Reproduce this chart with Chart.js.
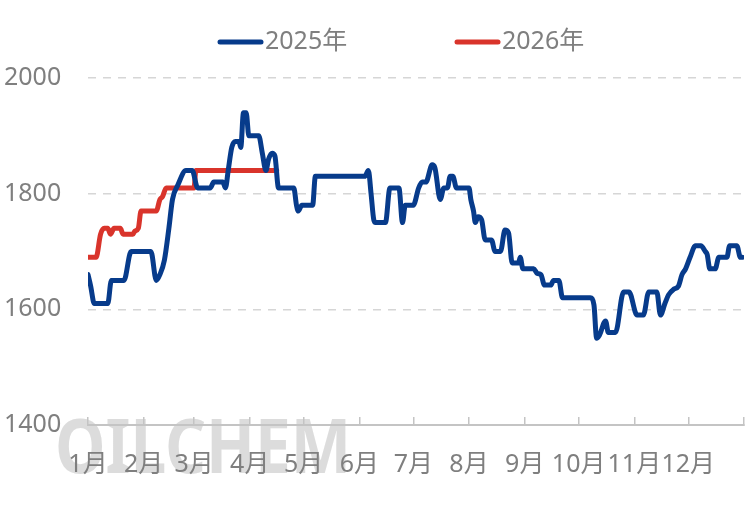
<!DOCTYPE html>
<html>
<head>
<meta charset="utf-8">
<script src="https://cdn.jsdelivr.net/npm/chart.js@4.4.1/dist/chart.umd.min.js"></script>
<style>
  html, body { margin: 0; padding: 0; background: #fff; }
  #wrap { width: 750px; height: 519px; position: relative; }
</style>
</head>
<body>
<div id="wrap"><canvas id="chart"></canvas></div>
<script>
'use strict';

const monthLabels = ['1月', '2月', '3月', '4月', '5月', '6月', '7月', '8月', '9月', '10月', '11月', '12月'];
const monthStarts = [0, 31, 59, 90, 120, 151, 181, 212, 243, 273, 304, 334, 365];
const yTicks      = [1400, 1600, 1800, 2000];

const seriesNames = ['2025年', '2026年'];

// day of year / price
const days2025 = [0, 1.5, 3.5, 11, 13, 20, 24, 35, 38, 40, 42.5, 45, 47, 50, 54.5, 58, 61, 68, 70, 75,
  76.5, 78, 80, 82, 84, 85, 86.5, 88, 89.5, 95, 97, 99, 100.5, 102.5, 104, 106, 114.5, 116, 117, 119,
  125, 126.5, 154, 156, 157.5, 159, 160, 165.5, 168, 173, 175, 176.5, 181, 184, 186, 188, 191.5, 193, 196, 198,
  200, 201.5, 203, 205, 212, 213, 214.5, 215.5, 217, 219, 221, 224.5, 226.5, 229.5, 232, 234, 236, 239.5, 240.5, 242,
  248, 250, 252, 254, 257.5, 259, 262, 264, 279.5, 281.5, 283, 284.5, 288, 289.5, 293.5, 298, 301, 305.5, 309, 312,
  316.5, 318.5, 321, 323, 326, 328.5, 330.5, 332.5, 335, 338, 341, 343.5, 344.5, 346, 349, 351, 355.5, 357, 361, 363, 364];
const values2025 = [1660, 1640, 1610, 1610, 1650, 1650, 1700, 1700, 1650, 1660, 1685, 1740, 1790, 1815, 1840, 1840, 1810, 1810, 1820, 1820,
  1810, 1840, 1880, 1890, 1890, 1880, 1940, 1940, 1900, 1900, 1870, 1840, 1860, 1870, 1865, 1810, 1810, 1780, 1770, 1780,
  1780, 1830, 1830, 1840, 1800, 1755, 1750, 1750, 1810, 1810, 1750, 1780, 1780, 1810, 1820, 1820, 1850, 1845, 1790, 1810,
  1810, 1830, 1830, 1810, 1810, 1790, 1770, 1750, 1760, 1755, 1720, 1720, 1700, 1700, 1737, 1732, 1680, 1680, 1690, 1670,
  1670, 1662, 1660, 1642, 1642, 1650, 1650, 1620, 1620, 1608, 1550, 1555, 1580, 1560, 1560, 1630, 1630, 1590, 1590, 1630,
  1630, 1590, 1610, 1625, 1635, 1640, 1660, 1670, 1690, 1710, 1710, 1700, 1695, 1670, 1670, 1690, 1690, 1710, 1710, 1690, 1690];

const days2026   = [0, 4.5, 7, 9, 11, 12.5, 14.5, 18, 19.5, 25, 26, 28, 29.5, 38, 40, 41.5, 43.5, 59, 60, 105];
const values2026 = [1690, 1690, 1730, 1740, 1740, 1730, 1740, 1740, 1730, 1730, 1735, 1740, 1770, 1770, 1790, 1795, 1810, 1810, 1840, 1840];

const COLORS = ['#073b8b', '#d9342b'];
const FONT = '"Noto Sans", "Noto Sans CJK SC", sans-serif';
const TEXT = '#7f7f7f';

const toPoints = (xs, ys) => xs.map((x, i) => ({ x, y: ys[i] }));

const watermark = {
  id: 'watermark',
  beforeDraw(chart) {
    const { ctx, chartArea } = chart;
    const left = chartArea.left - 33, top = chartArea.bottom - 6, bottom = chartArea.bottom + 48;
    ctx.save();
    ctx.font = 'bold 76px ' + FONT;
    ctx.textBaseline = 'alphabetic';
    const w = ctx.measureText('OILCHEM').width;
    const g = ctx.createLinearGradient(0, top, 0, bottom);
    g.addColorStop(0, 'rgba(220,220,220,1)');
    g.addColorStop(1, 'rgba(251,251,251,1)');
    ctx.fillStyle = g;
    ctx.translate(left, bottom);
    ctx.scale(296 / w, 1);
    ctx.fillText('OILCHEM', 0, 0);
    ctx.restore();
  }
};

const lineLegend = {
  id: 'lineLegend',
  afterDraw(chart) {
    const { ctx } = chart;
    const y = 42;
    ctx.save();
    ctx.font = '25px ' + FONT;
    ctx.textBaseline = 'middle';
    chart.data.datasets.forEach((ds, i) => {
      const x = 218 + i * 237;
      ctx.strokeStyle = ds.borderColor;
      ctx.lineWidth = 5;
      ctx.lineCap = 'round';
      ctx.beginPath();
      ctx.moveTo(x + 2, y);
      ctx.lineTo(x + 43, y);
      ctx.stroke();
      ctx.fillStyle = TEXT;
      ctx.fillText(ds.label, x + 47, y);
    });
    ctx.restore();
  }
};

new Chart(document.getElementById('chart'), {
  type: 'line',
  data: {
    datasets: [
      { label: seriesNames[0], data: toPoints(days2025, values2025), borderColor: COLORS[0] },
      { label: seriesNames[1], data: toPoints(days2026, values2026), borderColor: COLORS[1] },
    ].map(ds => Object.assign(ds, {
      borderWidth: 5,
      pointRadius: 0,
      cubicInterpolationMode: 'monotone',
      borderJoinStyle: 'round',
      borderCapStyle: 'round',
      fill: false,
    })),
  },
  options: {
    responsive: true,
    maintainAspectRatio: false,
    animation: false,
    layout: { padding: { top: 78, right: 6, bottom: 6, left: 4 } },
    plugins: {
      legend: { display: false },
      tooltip: { enabled: false },
    },
    scales: {
      x: {
        type: 'linear',
        min: monthStarts[0],
        max: monthStarts[monthStarts.length - 1],
        afterBuildTicks: s => { s.ticks = monthStarts.map(v => ({ value: v })); },
        ticks: {
          autoSkip: false,
          maxRotation: 0,
          padding: 0,
          color: TEXT,
          font: { family: FONT, size: 25, lineHeight: 3.84 },
          callback: (v, i) => monthLabels[i] || '',
        },
        grid: { drawOnChartArea: false, drawTicks: true, tickLength: -8, color: '#c4c4c4', lineWidth: 1.5 },
        border: { display: true, color: '#c4c4c4', width: 2 },
      },
      y: {
        min: yTicks[0],
        max: yTicks[yTicks.length - 1],
        afterBuildTicks: s => { s.ticks = yTicks.map(v => ({ value: v })); },
        afterFit: s => { s.width = 84; },
        ticks: {
          padding: 0,
          crossAlign: 'far',
          color: TEXT,
          font: { family: FONT, size: 25 },
          callback: v => String(v),
        },
        grid: {
          drawTicks: false,
          lineWidth: 1.5,
          color: c => (c.tick && c.tick.value === yTicks[0]) ? 'rgba(0,0,0,0)' : '#d6d6d6',
        },
        border: { display: false, dash: [8, 7] },
      },
    },
  },
  plugins: [watermark, lineLegend],
});
</script>
</body>
</html>
